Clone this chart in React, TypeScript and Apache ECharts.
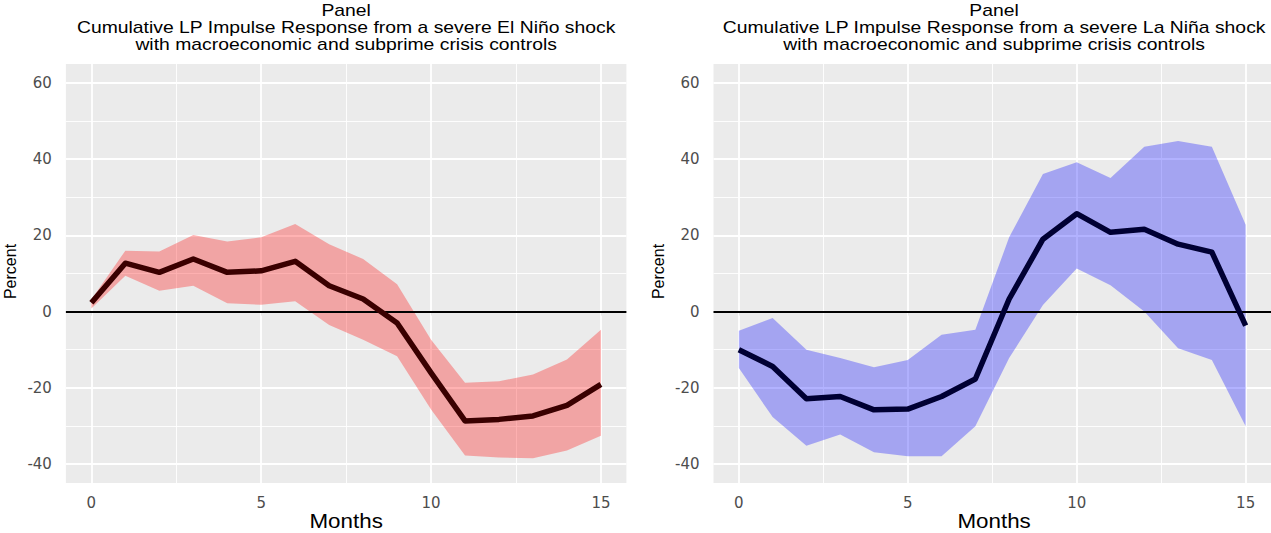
import React, { useEffect, useRef } from "react";
import * as echarts from "echarts";

// ---------- data ----------
const months = [0, 1, 2, 3, 4, 5, 6, 7, 8, 9, 10, 11, 12, 13, 14, 15];

const elNinoIrf = [2.3, 12.7, 10.3, 13.8, 10.3, 10.7, 13.2, 6.8, 3.3, -3.0, -16.1, -28.7, -28.3, -27.4, -24.6, -19.1];
const elNinoUpper = [3.2, 16.0, 15.8, 20.1, 18.4, 19.5, 23.0, 17.7, 13.8, 7.2, -7.4, -18.7, -18.3, -16.5, -12.6, -4.8];
const elNinoLower = [0.8, 9.4, 5.5, 6.8, 2.2, 1.8, 2.7, -3.5, -7.4, -11.7, -25.7, -37.8, -38.3, -38.5, -36.5, -32.6];

const laNinaIrf = [-10.0, -14.4, -22.9, -22.3, -25.8, -25.6, -22.3, -17.7, 3.3, 19.0, 25.7, 20.8, 21.6, 17.7, 15.6, -3.7];
const laNinaUpper = [-5.0, -1.7, -10.0, -12.2, -14.6, -12.7, -6.1, -4.8, 19.5, 36.1, 39.2, 35.1, 43.3, 44.8, 43.3, 22.8];
const laNinaLower = [-14.8, -27.7, -35.2, -32.3, -36.9, -38.0, -38.0, -30.1, -12.2, 1.7, 11.3, 6.9, 0.0, -9.6, -12.7, -30.1];

const xTicks = [0, 5, 10, 15];
const yTicks = [-40, -20, 0, 20, 40, 60];
const xMinor = [2.5, 7.5, 12.5];
const yMinor = [-30, -10, 10, 30, 50];

const panelTitles = [
  "Cumulative LP Impulse Response from a severe El Niño shock",
  "Cumulative LP Impulse Response from a severe La Niña shock",
];
const subTitle = "with macroeconomic and subprime crisis controls";

// ---------- layout / style ----------
const panels = [
  { irf: elNinoIrf, upper: elNinoUpper, lower: elNinoLower, band: "rgba(255,0,0,0.3)", line: "#3a0000", left: 65.9, width: 560.5 },
  { irf: laNinaIrf, upper: laNinaUpper, lower: laNinaLower, band: "rgba(0,0,255,0.3)", line: "#000033", left: 713.5, width: 561.2 },
];
const TOP = 64;
const HEIGHT = 419;

export default function App() {
  const ref = useRef<HTMLDivElement>(null);

  useEffect(() => {
    if (!ref.current) return;
    const chart = echarts.init(ref.current, undefined, { renderer: "svg" });

    const grids: any[] = [];
    const xAxes: any[] = [];
    const yAxes: any[] = [];
    const series: any[] = [];
    const graphics: any[] = [];

    panels.forEach((p, i) => {
      grids.push({
        left: p.left,
        top: TOP,
        width: p.width,
        height: HEIGHT,
        show: true,
        backgroundColor: "#EBEBEB",
        borderWidth: 0,
      });
      xAxes.push({
        type: "value",
        gridIndex: i,
        min: -0.75,
        max: 15.75,
        axisLine: { show: false },
        axisTick: { show: true, customValues: xTicks, length: 4, lineStyle: { color: "#333333", width: 1 } },
        axisLabel: {
          customValues: xTicks,
          color: "#4D4D4D",
          fontFamily: "DejaVu Sans",
          fontSize: 15,
          margin: 12,
        },
        splitLine: { show: false },
      });
      yAxes.push({
        type: "value",
        gridIndex: i,
        min: -45,
        max: 65,
        axisLine: { show: false },
        axisTick: { show: true, customValues: yTicks, length: 4, lineStyle: { color: "#333333", width: 1 } },
        axisLabel: {
          customValues: yTicks,
          color: "#4D4D4D",
          fontFamily: "DejaVu Sans",
          fontSize: 15,
          margin: 14,
        },
        splitLine: { show: false },
      });

      const gridLines: any[] = [];
      xTicks.forEach((v) => gridLines.push({ xAxis: v, lineStyle: { color: "#FFFFFF", width: 1.8, type: "solid" } }));
      xMinor.forEach((v) => gridLines.push({ xAxis: v, lineStyle: { color: "#FFFFFF", width: 0.9, type: "solid" } }));
      yTicks.forEach((v) => gridLines.push({ yAxis: v, lineStyle: { color: "#FFFFFF", width: 1.8, type: "solid" } }));
      yMinor.forEach((v) => gridLines.push({ yAxis: v, lineStyle: { color: "#FFFFFF", width: 0.9, type: "solid" } }));

      // invisible carrier for the panel grid lines (drawn under the band)
      series.push({
        type: "line",
        xAxisIndex: i,
        yAxisIndex: i,
        data: months.map((m, k) => [m, p.irf[k]]),
        symbol: "none",
        lineStyle: { opacity: 0 },
        silent: true,
        z: 1,
        markLine: {
          silent: true,
          symbol: "none",
          z: 1,
          label: { show: false },
          emphasis: { disabled: true },
          animation: false,
          data: gridLines,
        },
      });

      // confidence band
      series.push({
        type: "custom",
        xAxisIndex: i,
        yAxisIndex: i,
        data: [[0, 0]],
        silent: true,
        z: 2,
        renderItem: (_params: any, api: any) => {
          const pts: number[][] = [];
          months.forEach((m, k) => pts.push(api.coord([m, p.upper[k]])));
          for (let k = months.length - 1; k >= 0; k--) pts.push(api.coord([months[k], p.lower[k]]));
          return {
            type: "polygon",
            shape: { points: pts },
            style: { fill: p.band, stroke: "none" },
          };
        },
      });

      // impulse response line + zero line
      series.push({
        type: "line",
        xAxisIndex: i,
        yAxisIndex: i,
        data: months.map((m, k) => [m, p.irf[k]]),
        symbol: "none",
        lineStyle: { color: p.line, width: 5.5, join: "round" },
        silent: true,
        z: 4,
        markLine: {
          silent: true,
          symbol: "none",
          z: 3,
          label: { show: false },
          emphasis: { disabled: true },
          animation: false,
          data: [{ yAxis: 0, lineStyle: { color: "#000000", width: 2, type: "solid" } }],
        },
      });

      const cx = p.left + p.width / 2;
      const titleFont = '16px "Liberation Sans", Arial, sans-serif';
      graphics.push({
        type: "text", x: cx, y: 11, scaleX: 1.21, silent: true,
        style: { text: "Panel", font: titleFont, fill: "#000", textAlign: "center", textVerticalAlign: "middle" },
      });
      graphics.push({
        type: "text", x: cx, y: 28, scaleX: 1.21, silent: true,
        style: { text: panelTitles[i], font: titleFont, fill: "#000", textAlign: "center", textVerticalAlign: "middle" },
      });
      graphics.push({
        type: "text", x: cx, y: 45, scaleX: 1.21, silent: true,
        style: { text: subTitle, font: titleFont, fill: "#000", textAlign: "center", textVerticalAlign: "middle" },
      });
      graphics.push({
        type: "text", x: cx, y: 521, scaleX: 1.065, silent: true,
        style: { text: "Months", font: '21px "Liberation Sans", Arial, sans-serif', fill: "#000", textAlign: "center", textVerticalAlign: "middle" },
      });
      graphics.push({
        type: "text", x: p.left - 55, y: TOP + HEIGHT / 2 - 2, rotation: Math.PI / 2, silent: true,
        style: { text: "Percent", font: '16px "Liberation Sans", Arial, sans-serif', fill: "#000", textAlign: "center", textVerticalAlign: "middle" },
      });
    });

    chart.setOption({
      animation: false,
      backgroundColor: "#FFFFFF",
      grid: grids,
      xAxis: xAxes,
      yAxis: yAxes,
      series,
      graphic: { elements: graphics },
    });

    return () => chart.dispose();
  }, []);

  return (
    <div
      ref={ref}
      style={{ position: "absolute", left: 0, top: 0, width: "1271px", height: "533px" }}
    />
  );
}
